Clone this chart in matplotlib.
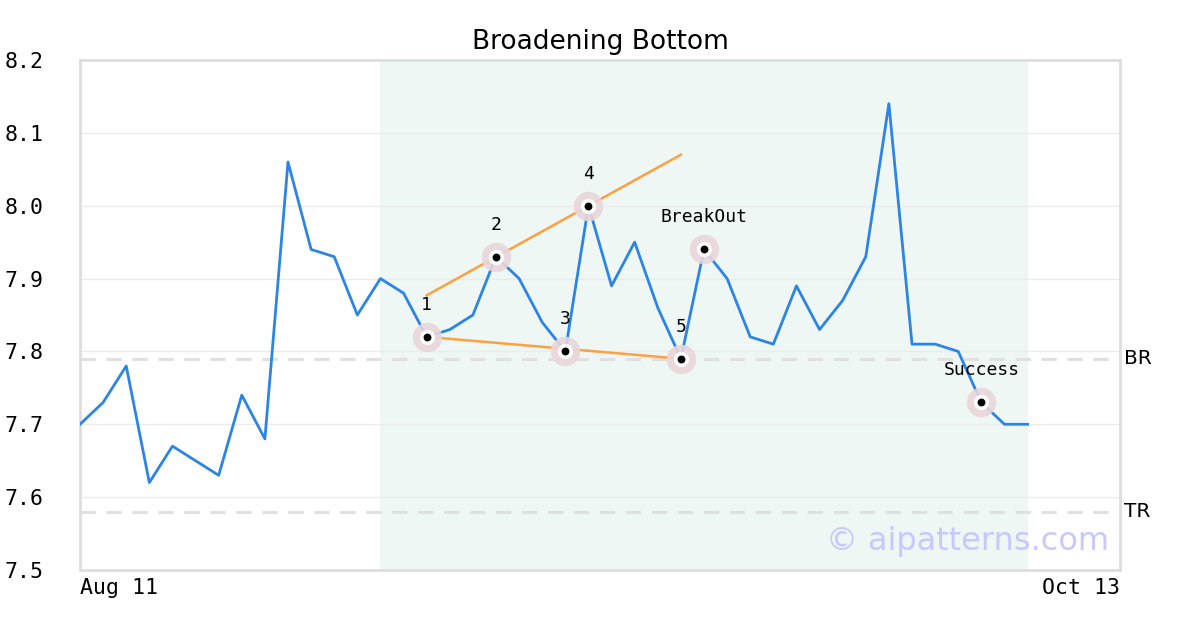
import numpy as np
import matplotlib
matplotlib.use('Agg')
import matplotlib.pyplot as plt

# price series (one point per trading day, Aug 11 .. Oct 13)
prices = [7.70, 7.73, 7.78, 7.62, 7.67, 7.65, 7.63, 7.74, 7.68, 8.06,
          7.94, 7.93, 7.85, 7.90, 7.88, 7.82, 7.83, 7.85, 7.93, 7.90,
          7.84, 7.80, 8.00, 7.89, 7.95, 7.86, 7.79, 7.94, 7.90, 7.82,
          7.81, 7.89, 7.83, 7.87, 7.93, 8.14, 7.81, 7.81, 7.80, 7.73,
          7.70, 7.70]
n_days = 45
x_labels = ['Aug 11', 'Oct 13']

pattern_start, pattern_end = 13, 41
upper_line_x = [15, 26]
upper_line_y = [7.877, 8.07]
lower_line_x = [15, 26]
lower_line_y = [7.82, 7.79]

point_idx = [15, 18, 21, 22, 26, 27, 39]
point_text = ['1', '2', '3', '4', '5', 'BreakOut', 'Success']

br_level = 7.79
tr_level = 7.58

fig = plt.figure(figsize=(12, 6.3), dpi=100)
ax = fig.add_axes([80/1200, 60/630, 1040/1200, 510/630])

x = np.arange(len(prices))
ax.axvspan(pattern_start, pattern_end, color='#eef7f3', zorder=0, lw=0)
for yv in np.arange(7.6, 8.15, 0.1):
    ax.axhline(yv, color='#ebebeb', lw=1, zorder=1)

ax.axhline(br_level, color='#e0e0e0', lw=2.2, ls=(0, (5, 3.5)), zorder=1)
ax.axhline(tr_level, color='#e0e0e0', lw=2.2, ls=(0, (5, 3.5)), zorder=1)

ax.plot(x, prices, color='#2b84e6', lw=2.0, zorder=3)
ax.plot(upper_line_x, upper_line_y, color='#ff9f40', lw=1.8, zorder=2)
ax.plot(lower_line_x, lower_line_y, color='#ff9f40', lw=1.8, zorder=2)

px = np.array(point_idx)
py = np.array([prices[i] for i in point_idx])
ax.scatter(px, py, s=450, color='#e9d6db', alpha=0.9, lw=0, zorder=4)
ax.scatter(px, py, s=120, color='white', lw=0, zorder=5)
ax.scatter(px, py, s=32, color='black', lw=0, zorder=6)
for i, t in zip(point_idx, point_text):
    ax.annotate(t, (i, prices[i]), xytext=(0, 23), textcoords='offset points',
                ha='center', va='center', fontsize=13,
                family='DejaVu Sans Mono', zorder=7)

ax.text(1.004, br_level, 'BR', transform=ax.get_yaxis_transform(),
        va='center', ha='left', fontsize=14.5)
ax.text(1.004, tr_level, 'TR', transform=ax.get_yaxis_transform(),
        va='center', ha='left', fontsize=14.5)

ax.text(0.99, 0.055, '\u00a9 aipatterns.com', transform=ax.transAxes,
        ha='right', va='center', fontsize=23, color='#c8c8ff', zorder=8)

ax.set_xlim(0, n_days)
ax.set_ylim(7.5, 8.2)
ax.set_yticks(np.arange(7.5, 8.21, 0.1))
ax.set_yticklabels(['%.1f' % v for v in np.arange(7.5, 8.21, 0.1)],
                   family='DejaVu Sans Mono', fontsize=15.5, ha='left')
ax.tick_params(axis='y', length=0, pad=54)
ax.set_xticks([0, n_days])
ax.set_xticklabels(x_labels, family='DejaVu Sans Mono', fontsize=15.5)
ax.get_xticklabels()[0].set_ha('left')
ax.get_xticklabels()[1].set_ha('right')
ax.tick_params(axis='x', length=0, pad=6)

for s in ax.spines.values():
    s.set_color('#dddddd')
    s.set_linewidth(2)

ax.set_title('Broadening Bottom', fontsize=19, pad=8)

fig.savefig('out.png', dpi=100)
